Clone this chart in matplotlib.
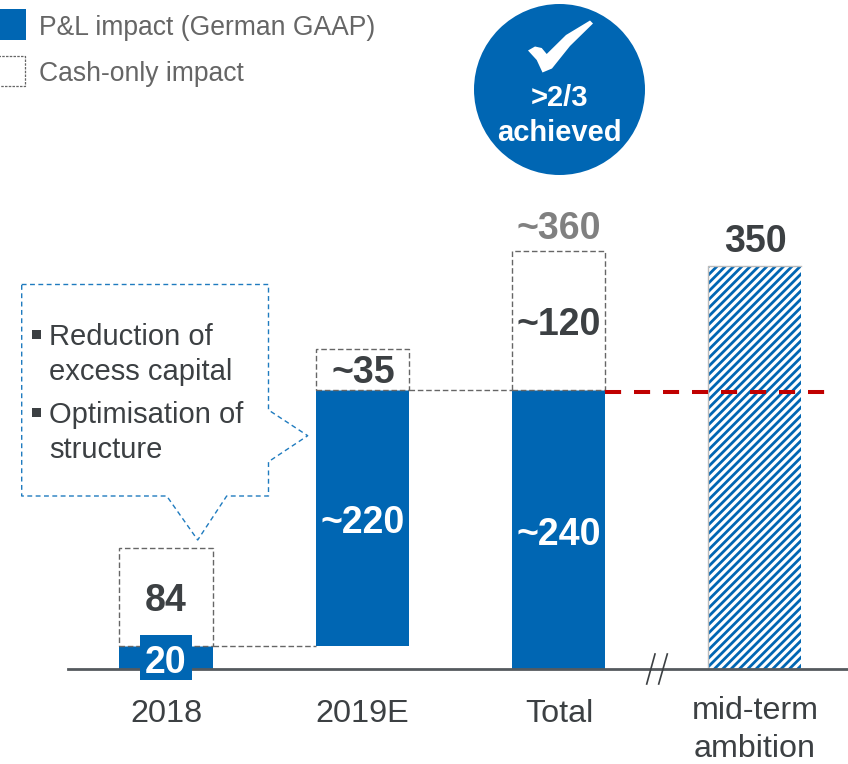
import matplotlib
matplotlib.use('Agg')
import matplotlib.pyplot as plt
from matplotlib.patches import Polygon

plt.rcParams['font.family'] = ['Liberation Sans', 'DejaVu Sans']
plt.rcParams['hatch.linewidth'] = 2.0
plt.rcParams['hatch.color'] = '#0066b3'

# data
categories = ['2018', '2019E', 'Total', 'mid-term\nambition']
pl_bottom = [0, 20, 0]
pl_height = [20, 220, 240]
cash_bottom = [20, 240, 240]
cash_height = [84, 35, 120]
ambition_pos = 3
ambition_height = 347
pl_labels = ['20', '~220', '~240']
cash_labels = ['84', '~35', '~120']
total_labels = ['~360', '350']
target_level = 238.5
legend_labels = ['P&L impact (German GAAP)', 'Cash-only impact']
callout_lines = ['Reduction of\nexcess capital', 'Optimisation of\nstructure']

BLUE = '#0066b3'
DARK = '#3c4043'
GREY = '#666666'
W, H = 848, 764

fig = plt.figure(figsize=(W / 100, H / 100), dpi=100)
ax = fig.add_axes([0, 0, 1, 1])
ax.set_xlim(-166 / 196.3, (W - 166) / 196.3)
ax.set_ylim(-95 / 1.1625, 669 / 1.1625)
ax.axis('off')


def P(x, y):
    # reference pixels to figure fraction
    return x / W, 1 - y / H


def pix_text(x, y, s, **kw):
    kw.setdefault('ha', 'center')
    kw.setdefault('va', 'center_baseline')
    kw.setdefault('zorder', 8)
    return fig.text(*P(x, y), s, **kw)


def poly(points, **kw):
    p = Polygon([P(*q) for q in points], transform=fig.transFigure, **kw)
    fig.add_artist(p)
    return p


def box(x0, y0, x1, y1, **kw):
    return poly([(x0, y0), (x1, y0), (x1, y1), (x0, y1)], **kw)


xs = range(3)
bar_w = 0.474

# bars
ax.bar(xs, pl_height, bar_w, bottom=pl_bottom, color=BLUE, zorder=2)
ax.bar(xs, cash_height, bar_w, bottom=cash_bottom, facecolor='white', edgecolor=GREY,
       linewidth=1, linestyle=(0, (4, 2)), zorder=2)
ax.bar(ambition_pos, ambition_height, bar_w, facecolor='white', edgecolor=BLUE,
       hatch='////', linewidth=0, zorder=2)
edge_x = ambition_pos - bar_w / 2
ax.plot([edge_x, edge_x, ambition_pos + bar_w / 2], [0, ambition_height, ambition_height],
        color='#bbbbbb', lw=1, zorder=3)

# connectors
ax.plot([0 + bar_w / 2, 1 - bar_w / 2], [20, 20], color=GREY, lw=1, ls=(0, (4, 2)), zorder=1)
ax.plot([1 + bar_w / 2, 2 - bar_w / 2], [240, 240], color=GREY, lw=1, ls=(0, (4, 2)), zorder=1)
ax.plot([2 + bar_w / 2, 3.357], [target_level, target_level], color='#c00000', lw=2.9,
        ls=(0, (4, 3.2)), dash_capstyle='butt', zorder=4)

# baseline with the break
ax.axhline(0, xmin=68 / W, color='#555a5e', lw=2, zorder=3)
for x0, x1 in ((646.7, 655), (658.7, 667.3)):
    fig.add_artist(plt.Line2D(*zip(P(x0, 684), P(x1, 654)), color=DARK, lw=1.2))

# value labels
box(140, 635, 192, 680, facecolor=BLUE, edgecolor='none', zorder=6)
label_font = dict(fontsize=27, fontweight='bold')
pix_text(166, 659, pl_labels[0], color='white', **label_font)
pix_text(363, 519, pl_labels[1], color='white', **label_font)
pix_text(559, 531, pl_labels[2], color='white', **label_font)
pix_text(166, 597, cash_labels[0], color=DARK, **label_font)
pix_text(363, 369, cash_labels[1], color=DARK, **label_font)
pix_text(559, 321, cash_labels[2], color=DARK, **label_font)
pix_text(559, 225, total_labels[0], color='#808080', **label_font)
pix_text(755, 238, total_labels[1], color=DARK, **label_font)

# category labels
for x, c in zip((166, 362, 559), categories[:3]):
    pix_text(x, 711, c, color=DARK, fontsize=23.3)
pix_text(755, 730, categories[3], color=DARK, fontsize=23.2, va='center', linespacing=1.33)

# legend
box(0, 9, 26, 40, facecolor=BLUE, edgecolor='none')
box(-2, 56, 25, 86, facecolor='white', edgecolor=GREY, lw=0.9, ls=(0, (2, 1)))
pix_text(39, 25, legend_labels[0], color=GREY, fontsize=19.1, ha='left')
pix_text(39, 71, legend_labels[1], color=GREY, fontsize=19.1, ha='left')

# badge
ax.scatter([2], [(669 - 89) / 1.1625], s=(171 * 0.72) ** 2, color=BLUE, zorder=5, linewidths=0)
poly([(528, 50.5), (535, 46.5), (541.7, 48), (546.7, 54), (566, 35), (590, 20.5), (593, 23.5),
      (570, 46), (552, 68.5), (542.5, 72.5), (536.7, 60)],
     facecolor='white', edgecolor='none', zorder=7)
pix_text(559, 95.5, '>2/3', color='white', fontsize=21, fontweight='bold')
pix_text(559, 130, 'achieved', color='white', fontsize=21, fontweight='bold')

# callout
callout = [(21.7, 284.5), (268.5, 284.5), (268.5, 410), (307.7, 435.7), (268.5, 461.7), (268.5, 496),
           (226.7, 496), (197.7, 540), (166.7, 496), (21.7, 496)]
poly(callout, facecolor='white', edgecolor='none', zorder=3)
cx, cy = zip(*[P(*q) for q in callout + callout[:1]])
fig.add_artist(plt.Line2D(cx, cy, color='#1f7bbf', lw=1, ls=(0, (3.5, 2.5)), zorder=3))
pix_text(49, 354.5, callout_lines[0], color=DARK, fontsize=21, ha='left', va='center', linespacing=1.33)
pix_text(49, 432.5, callout_lines[1], color=DARK, fontsize=21, ha='left', va='center', linespacing=1.33)
for y in (330, 408):
    box(32, y, 40.5, y + 8.5, facecolor=DARK, edgecolor='none', zorder=6)

fig.savefig('out.png', dpi=100)
